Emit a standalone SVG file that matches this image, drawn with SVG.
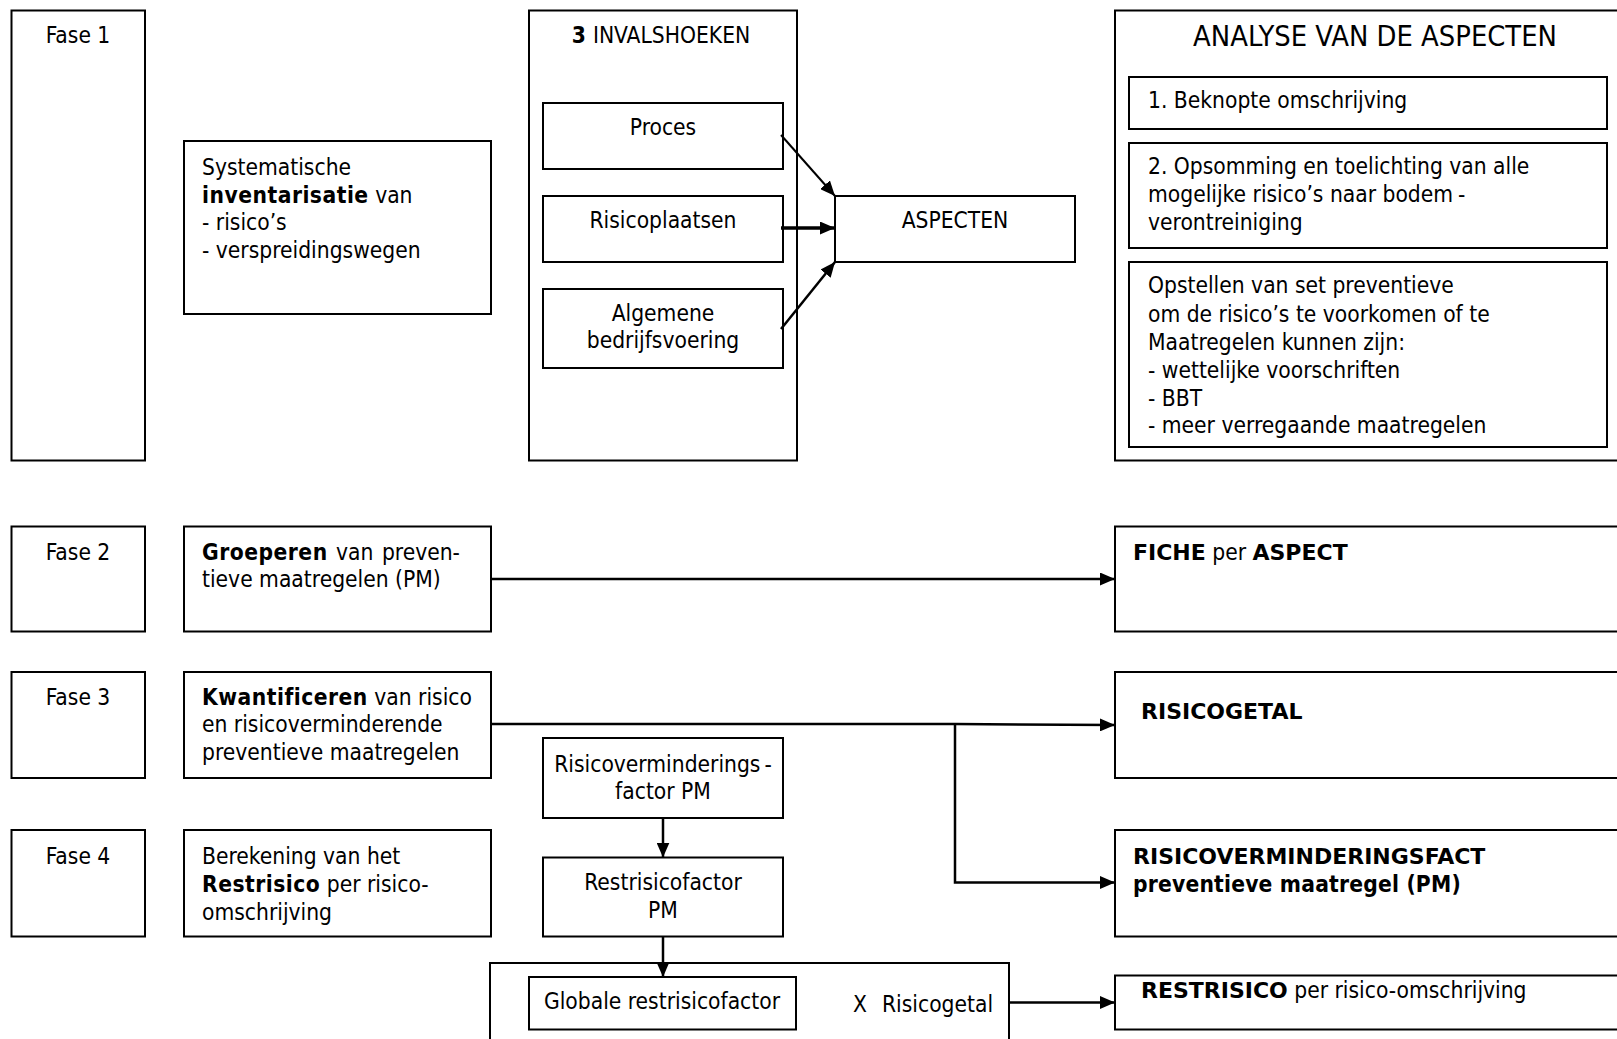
<svg xmlns="http://www.w3.org/2000/svg" width="1617" height="1039" viewBox="0 0 1617 1039">
<defs>
<style>
.t{font-family:"DejaVu Sans Condensed","DejaVu Sans",sans-serif;font-stretch:condensed;font-size:22.6px;fill:#000}
.c{text-anchor:middle}
.b{font-weight:bold;letter-spacing:0.5px}
.B{font-family:"DejaVu Sans",sans-serif;font-stretch:normal;font-weight:bold;font-size:22px}
.box{fill:#fff;stroke:#000;stroke-width:2}
.conn{fill:none;stroke:#000;stroke-width:2.5}
</style>
<marker id="ah" markerUnits="userSpaceOnUse" markerWidth="15" markerHeight="13" refX="15" refY="6.5" orient="auto">
<path d="M0,0 L15,6.5 L0,13 z" fill="#000"/>
</marker>
</defs>
<rect width="1617" height="1039" fill="#fff"/>

<g id="fase1"><rect class="box" x="11.5" y="10.5" width="133.5" height="450"/><text class="t c" x="78" y="43">Fase 1</text></g>
<g id="inventarisatie"><rect class="box" x="184" y="141" width="307" height="173"/>
<text class="t" x="202" y="175">Systematische</text>
<text class="t" x="202" y="202.5"><tspan class="b">inventarisatie</tspan> van</text>
<text class="t" x="202" y="230">- risico’s</text>
<text class="t" x="202" y="258">- verspreidingswegen</text></g>

<g id="invalshoeken"><rect class="box" x="529" y="10.5" width="268" height="450"/><text class="t c" x="661" y="43"><tspan class="b">3</tspan> INVALSHOEKEN</text></g>
<g id="proces"><rect class="box" x="543" y="103" width="240" height="66"/><text class="t c" x="663" y="135">Proces</text></g>
<g id="risicoplaatsen"><rect class="box" x="543" y="196" width="240" height="66"/><text class="t c" x="663" y="228">Risicoplaatsen</text></g>
<g id="algemene"><rect class="box" x="543" y="289" width="240" height="79"/><text class="t c" x="663" y="321">Algemene</text><text class="t c" x="663" y="348">bedrijfsvoering</text></g>
<g id="aspecten"><rect class="box" x="835" y="196" width="240" height="66"/><text class="t c" x="955" y="228">ASPECTEN</text></g>

<g id="analyse"><rect class="box" x="1115" y="10.5" width="540" height="450"/><text class="t c" x="1375" y="46" style="font-size:28.8px">ANALYSE VAN DE ASPECTEN</text></g>
<g id="beknopte"><rect class="box" x="1129" y="77" width="478" height="52"/><text class="t" x="1148" y="108">1. Beknopte omschrijving</text></g>
<g id="opsomming"><rect class="box" x="1129" y="143" width="478" height="105"/>
<text class="t" x="1148" y="174">2. Opsomming en toelichting van alle</text>
<text class="t" x="1148" y="202">mogelijke risico’s naar bodem<tspan dx="5">-</tspan></text>
<text class="t" x="1148" y="230">verontreiniging</text></g>
<g id="opstellen"><rect class="box" x="1129" y="262" width="478" height="185"/>
<text class="t" x="1148" y="293">Opstellen van set preventieve</text>
<text class="t" x="1148" y="322">om de risico’s te voorkomen of te</text>
<text class="t" x="1148" y="350">Maatregelen kunnen zijn:</text>
<text class="t" x="1148" y="378">- wettelijke voorschriften</text>
<text class="t" x="1148" y="406">- BBT</text>
<text class="t" x="1148" y="433">- meer verregaande maatregelen</text></g>

<g id="fase2"><rect class="box" x="11.5" y="526.5" width="133.5" height="105"/><text class="t c" x="78" y="559.5">Fase 2</text></g>
<g id="groeperen"><rect class="box" x="184" y="526.5" width="307" height="105"/>
<text class="t" x="202" y="559.5" word-spacing="2"><tspan class="b">Groeperen</tspan> van preven-</text>
<text class="t" x="202" y="587">tieve maatregelen (PM)</text></g>
<g id="fiche"><rect class="box" x="1115" y="526.5" width="540" height="105"/><text class="t" x="1133" y="559.5"><tspan class="B">FICHE</tspan> per <tspan class="B">ASPECT</tspan></text></g>

<g id="fase3"><rect class="box" x="11.5" y="672" width="133.5" height="106"/><text class="t c" x="78" y="704.5">Fase 3</text></g>
<g id="kwantificeren"><rect class="box" x="184" y="672" width="307" height="106"/>
<text class="t" x="202" y="704.5"><tspan class="b">Kwantificeren</tspan> van risico</text>
<text class="t" x="202" y="732">en risicoverminderende</text>
<text class="t" x="202" y="759.5">preventieve maatregelen</text></g>
<g id="risicogetal"><rect class="box" x="1115" y="672" width="540" height="106"/><text class="t B" x="1141" y="718.5">RISICOGETAL</text></g>
<g id="rvf-pm"><rect class="box" x="543" y="738" width="240" height="80"/>
<text class="t c" x="663" y="771.5">Risicoverminderings<tspan dx="4">-</tspan></text>
<text class="t c" x="663" y="799">factor PM</text></g>

<g id="fase4"><rect class="box" x="11.5" y="830" width="133.5" height="106.5"/><text class="t c" x="78" y="863.5">Fase 4</text></g>
<g id="berekening"><rect class="box" x="184" y="830" width="307" height="106.5"/>
<text class="t" x="202" y="863.5">Berekening van het</text>
<text class="t" x="202" y="891.5"><tspan class="b">Restrisico</tspan> per risico-</text>
<text class="t" x="202" y="919.5">omschrijving</text></g>
<g id="restrisicofactor"><rect class="box" x="543" y="857.5" width="240" height="79"/>
<text class="t c" x="663" y="890">Restrisicofactor</text>
<text class="t c" x="663" y="917.5">PM</text></g>
<g id="rvf"><rect class="box" x="1115" y="830" width="540" height="106.5"/>
<text class="t B" x="1133" y="863.5">RISICOVERMINDERINGSFACT</text>
<text class="t b" x="1133" y="891.5" style="letter-spacing:0.2px">preventieve maatregel (PM)</text></g>

<g id="product"><rect class="box" x="490" y="963" width="519" height="100"/>
<text class="t" x="853" y="1012">X<tspan x="882">Risicogetal</tspan></text></g>
<g id="globale"><rect class="box" x="529" y="977" width="267" height="52.5"/><text class="t c" x="662" y="1009">Globale restrisicofactor</text></g>
<g id="restrisico"><rect class="box" x="1115" y="975.5" width="540" height="54"/><text class="t" x="1141" y="997.5"><tspan class="B">RESTRISICO</tspan> per risico-omschrijving</text></g>

<g id="connectors">
<line class="conn" x1="781" y1="135" x2="835" y2="196" marker-end="url(#ah)" style="stroke-width:2"/>
<line class="conn" x1="781" y1="228" x2="835" y2="228" marker-end="url(#ah)" style="stroke-width:3.5"/>
<line class="conn" x1="781" y1="329" x2="835" y2="262" marker-end="url(#ah)"/>
<line class="conn" x1="491" y1="579" x2="1115" y2="579" marker-end="url(#ah)"/>
<polyline class="conn" points="491,724 955,724 1115,725" marker-end="url(#ah)"/>
<polyline class="conn" points="955,724 955,882.5 1115,882.5" marker-end="url(#ah)"/>
<line class="conn" x1="663" y1="818" x2="663" y2="857.5" marker-end="url(#ah)"/>
<line class="conn" x1="663" y1="936.5" x2="663" y2="977" marker-end="url(#ah)"/>
<line class="conn" x1="1009" y1="1002.5" x2="1115" y2="1002.5" marker-end="url(#ah)"/>
</g>
</svg>
